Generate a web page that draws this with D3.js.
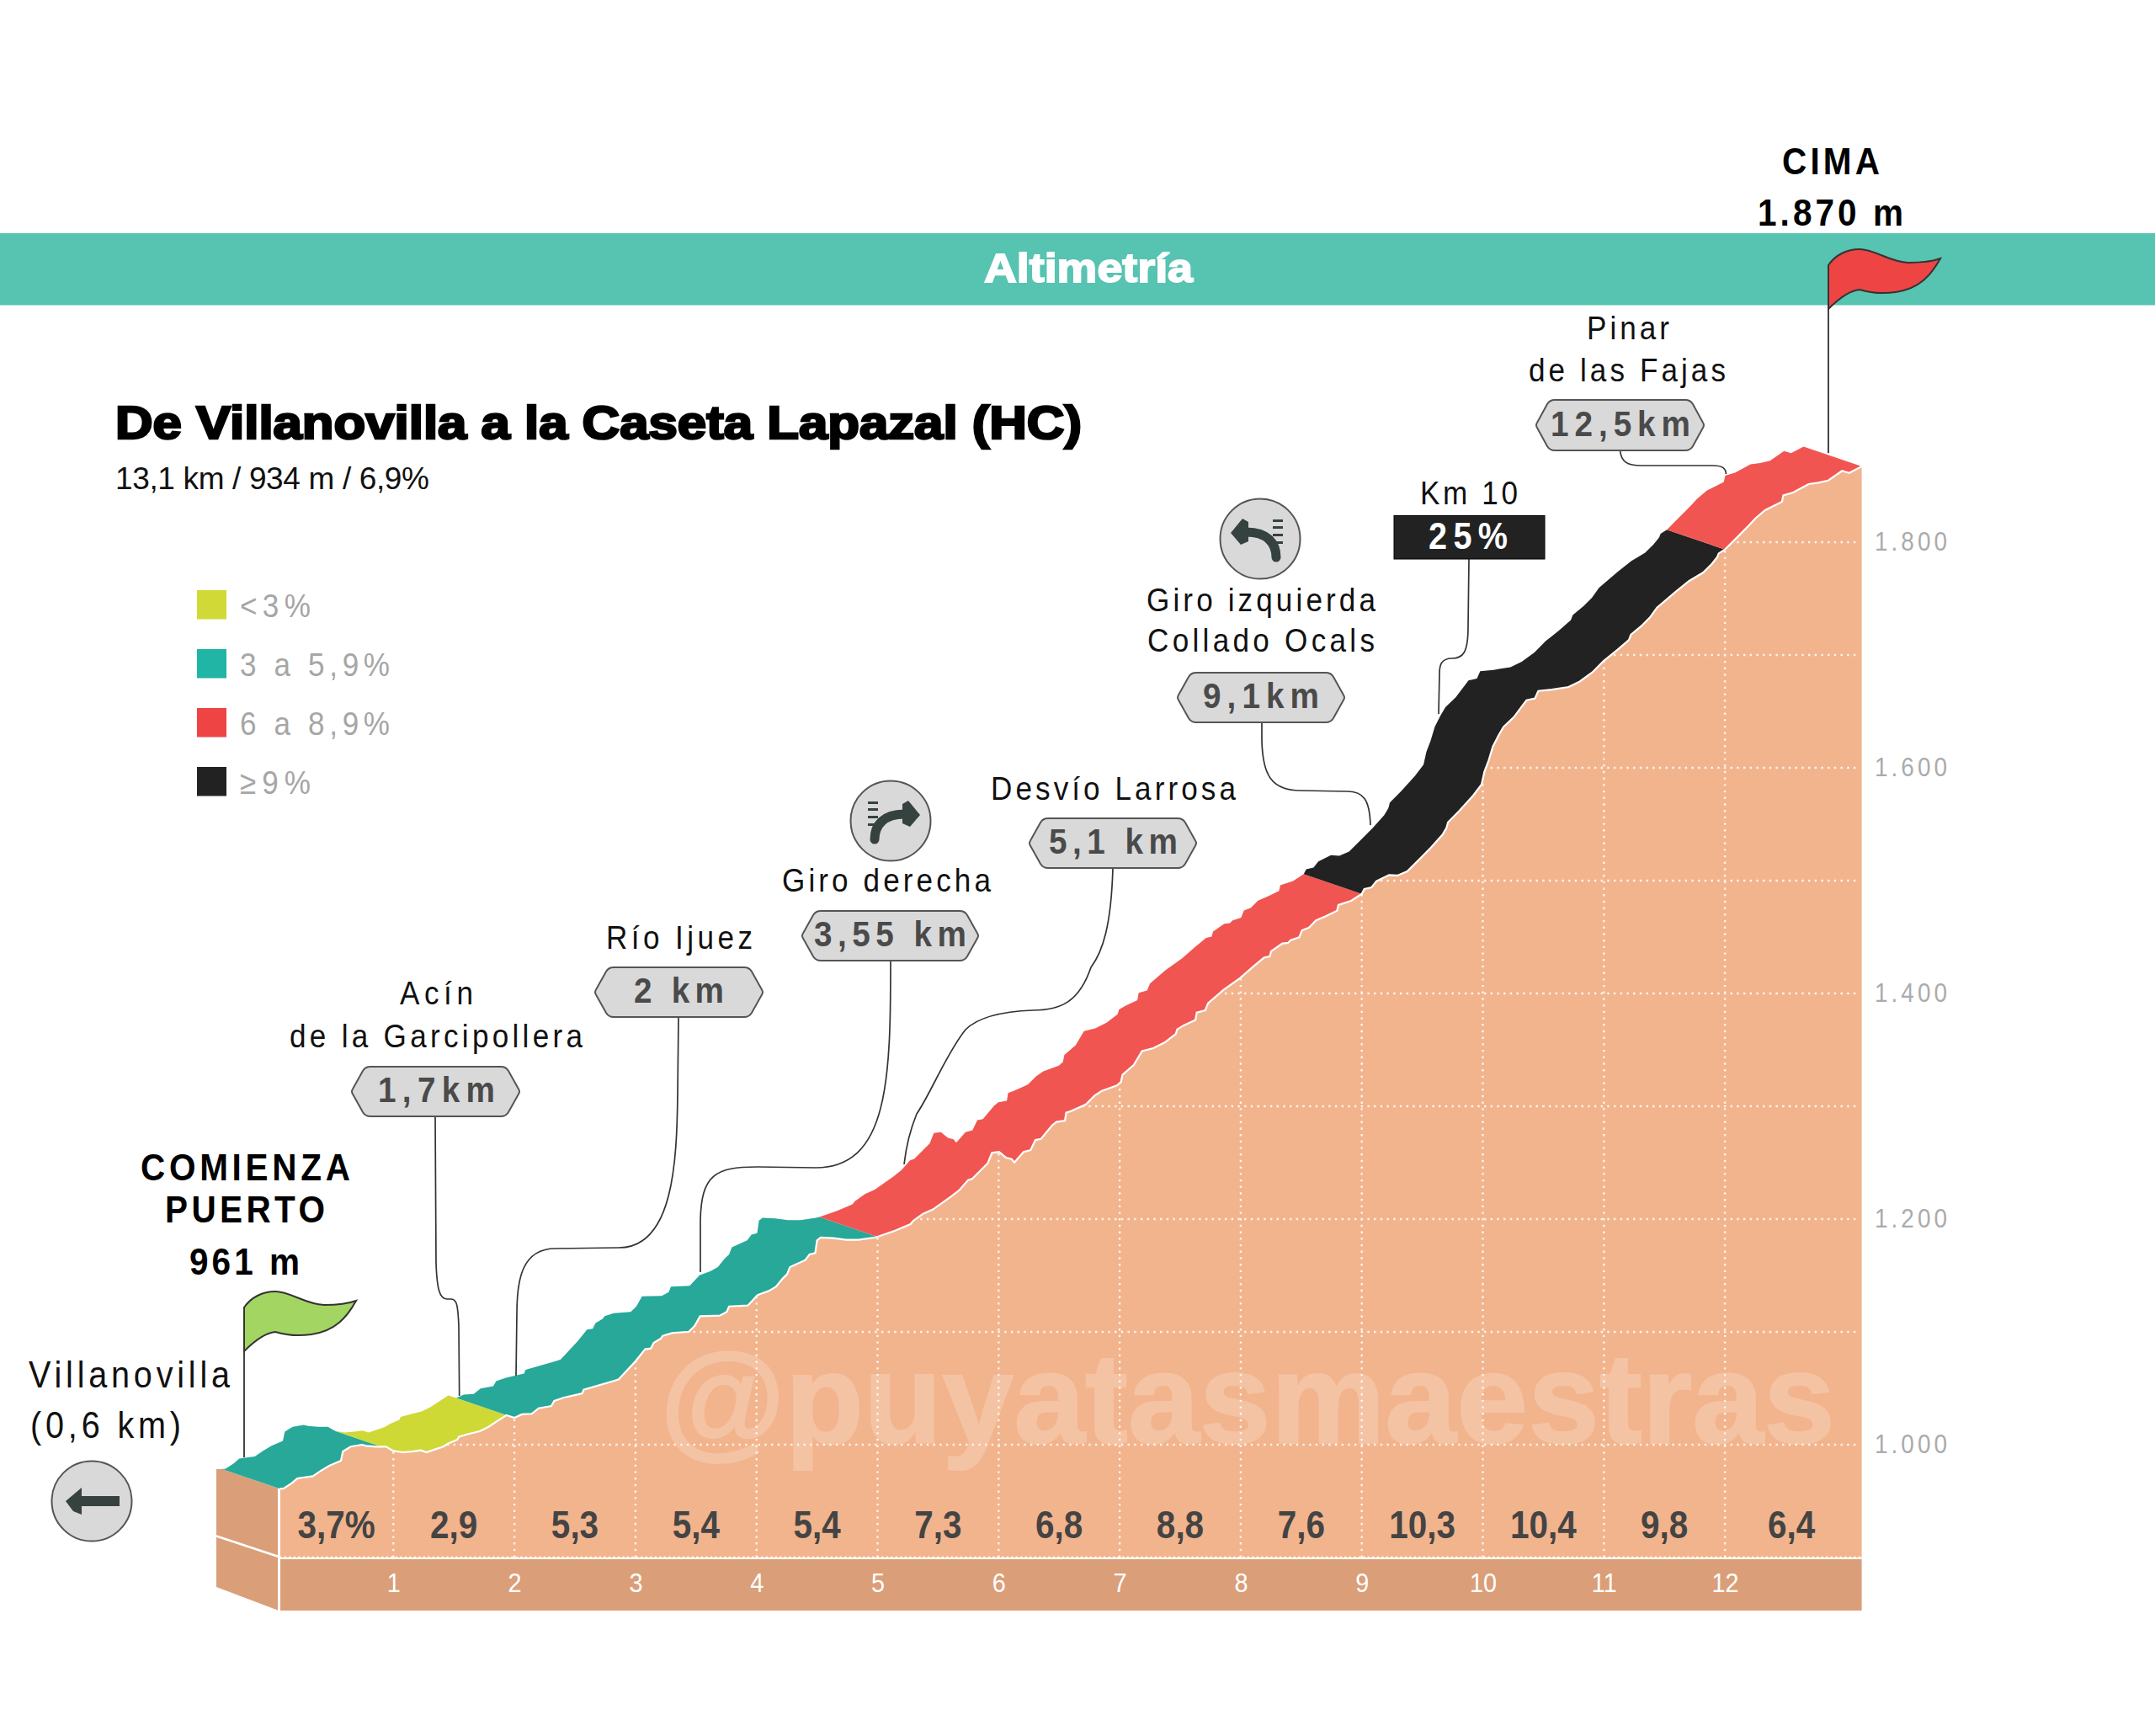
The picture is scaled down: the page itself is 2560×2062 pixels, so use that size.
<!DOCTYPE html>
<html><head><meta charset="utf-8">
<script src="https://cdn.jsdelivr.net/npm/d3@7"></script>
<style>
html,body{margin:0;padding:0;background:#fff}
svg{display:block}
text{font-family:"Liberation Sans",Arial,sans-serif}
</style></head><body>
<svg id="c" width="2560" height="2062" viewBox="0 0 2560 2062"></svg>
<script>
const profileKm=[0.06,0.0916,0.161,0.207,0.254,0.335,0.404,0.474,0.567,0.583,0.648,0.74,0.775,0.856,0.938,1.0,1.077,1.158,1.227,1.274,1.343,1.413,1.448,1.529,1.54,1.621,1.714,1.784,1.853,1.934,2.0,2.062,2.143,2.2,2.305,2.329,2.41,2.491,2.56,2.572,2.827,2.862,3.001,3.08,3.127,3.15,3.209,3.225,3.302,3.441,3.488,3.534,3.697,3.754,3.773,3.928,4.009,4.102,4.16,4.218,4.253,4.276,4.403,4.438,4.485,4.5,4.53,4.635,4.739,4.843,4.971,5.0,5.145,5.272,5.295,5.376,5.457,5.608,5.678,5.748,5.783,5.91,5.945,6.003,6.06,6.107,6.13,6.206,6.264,6.304,6.35,6.443,6.478,6.548,6.558,6.605,6.721,6.791,6.849,6.977,7.011,7.023,7.116,7.185,7.278,7.371,7.463,7.475,7.533,7.626,7.637,7.707,7.73,7.857,7.996,8.101,8.194,8.24,8.251,8.344,8.39,8.413,8.483,8.506,8.564,8.622,8.703,8.796,8.807,8.912,9.0,9.021,9.081,9.121,9.225,9.294,9.375,9.48,9.573,9.665,9.7,9.712,9.805,9.92,9.99,10.013,10.048,10.083,10.13,10.171,10.256,10.326,10.361,10.431,10.458,10.569,10.708,10.801,10.906,10.998,11.056,11.114,11.207,11.223,11.311,11.381,11.439,11.589,11.705,11.821,11.891,11.937,11.948,12.0,12.1,12.192,12.25,12.332,12.471,12.482,12.563,12.691,12.771,12.853,12.968,13.026,13.13];
const profileElev=[961,961,965.9,970.1,970.9,972.1,977.1,981.6,985.8,994,998.3,1000,999,998.3,998.3,994.5,993.3,994,995,993.3,995.8,998.3,1000.7,1004.5,1007,1009.5,1011.9,1015.7,1020.6,1026.1,1023.9,1026.9,1027.4,1032.3,1034.3,1038.8,1041.8,1043.8,1045.5,1048.8,1056.7,1058,1074.1,1084.6,1085.3,1090.3,1094,1096.5,1099,1100.2,1105.2,1113.9,1114.4,1117.7,1122.6,1123.4,1132.6,1136.3,1140,1147.5,1151.2,1157.5,1163.7,1168.7,1169.9,1181.1,1183.6,1183.1,1181.6,1181.6,1183.6,1184.3,1189.8,1195.5,1198.5,1204.7,1208.5,1220,1225.9,1234.6,1235.8,1249.5,1258.7,1259.5,1254.5,1253.2,1250.2,1259.5,1261.2,1270.1,1271.1,1283.1,1286.1,1287.3,1294.3,1296,1301.7,1309.2,1313.4,1318.4,1321.6,1327.9,1336.6,1349,1351.5,1356.5,1364,1368.2,1371.9,1376.5,1383.1,1385.1,1391.3,1403,1413.7,1423.6,1431.8,1432.8,1437.3,1444.3,1444.8,1447.2,1449.7,1455.9,1458.4,1464.7,1468.4,1473.4,1478.4,1482.1,1488.3,1492.5,1494,1499.5,1505,1504.5,1508.2,1519.4,1529.4,1540.5,1546.8,1551.7,1561.7,1575.4,1585.3,1596.5,1606.4,1618.9,1628.8,1636.2,1644.9,1654.9,1659.9,1661.6,1668.1,1669.3,1671.6,1676.5,1684.7,1694.7,1699.7,1704.7,1713.4,1717.9,1725.8,1733.3,1742,1755.7,1765.7,1773.1,1780.6,1786.8,1790,1793.5,1804.2,1814.2,1820.9,1828.4,1835.8,1841.5,1844,1851.5,1852.7,1854.7,1863.2,1861.4,1867.2];
const segStarts=[0,1,2,5,9,12];
const segEnds=[1,2,5,9,12,13.2];
const segClass=[1,0,1,2,3,2];
const legendLabels=["<3%","3 a 5,9%","6 a 8,9%","≥9%"];
const legendWidths=[84,178,178,84];
const bandColors=["#ced935","#27a899","#f15551","#222222"];
const legendColors=["#d1d936","#20b5a5","#ee4444","#222222"];
const gradeLabels=["3,7%","2,9","5,3","5,4","5,4","7,3","6,8","8,8","7,6","10,3","10,4","9,8","6,4"];
const gradeKm=[0.53,1.5,2.5,3.5,4.5,5.5,6.5,7.5,8.5,9.5,10.5,11.5,12.55];
const kmTicks=[1,2,3,4,5,6,7,8,9,10,11,12];
const elevLabelTicks=[1000,1200,1400,1600,1800];
const elevGrid=[1000,1100,1200,1300,1400,1500,1600,1700,1800];

const svg=d3.select("#c");
const x=d3.scaleLinear().domain([0,13.13]).range([323.5,2211.6]);
const y=d3.scaleLinear().domain([900,1870]).range([1850,550.2]);
const pts=profileKm.map((k,i)=>[k,profileElev[i]]);
const OX=-69,OY=-23.5, NARROW=.9;

// banner
svg.append("rect").attr("x",0).attr("y",277).attr("width",2560).attr("height",85.5).attr("fill","#57c3b1");

function T(str,x0,w,base,size,weight,fill,opt={}){
  const sx=opt.plain?1:NARROW;
  const t=svg.append("text").attr("transform",`translate(${x0},${base}) scale(${sx},1)`)
    .attr("font-size",size).attr("font-weight",weight).attr("fill",fill).text(str);
  if(w){t.attr("textLength",w/sx).attr("lengthAdjust",opt.adjust||"spacing");}
  if(opt.stroke)t.attr("stroke",fill).attr("stroke-width",opt.stroke);
  if(opt.opacity)t.attr("opacity",opt.opacity);
  return t;
}
T("Altimetría",1169,248,335,48,"bold","#fff",{plain:1,adjust:"spacingAndGlyphs",stroke:1.8});
T("De Villanovilla a la Caseta Lapazal (HC)",137,1148,521,55,"bold","#000",{plain:1,adjust:"spacingAndGlyphs",stroke:2.6});
T("13,1 km / 934 m / 6,9%",137,373,581,37,"normal","#111",{plain:1});

// legend
legendLabels.forEach((l,i)=>{
  svg.append("rect").attr("x",234).attr("y",701+i*70).attr("width",35).attr("height",34.5).attr("fill",legendColors[i]);
  T(l,285,legendWidths[i],733+i*70,39,"normal","#a6a6a6",{});
});

// base
const line=d3.line().x(d=>x(d[0])).y(d=>y(d[1]));
const area=d3.area().x(d=>x(d[0])).y0(y(900)).y1(d=>y(d[1]));
svg.append("defs").append("clipPath").attr("id","ac").append("path").attr("d",area(pts));
svg.append("path").attr("d",area(pts)).attr("fill","#f2b48d");
svg.append("rect").attr("x",x(0.06)).attr("y",y(900)+2).attr("width",x(13.13)-x(0.06)).attr("height",61).attr("fill","#da9f79");
svg.append("path").attr("d","M257,1745L264,1745L331,1768L331,1913L257,1885Z").attr("fill","#da9f79");
svg.append("path").attr("d","M257,1824.5L331,1849").attr("stroke","#fff").attr("stroke-width",2.5);
svg.append("path").attr("d","M331.5,1768L331.5,1913").attr("stroke","#fff").attr("stroke-width",3);

// grid
const g=svg.append("g").attr("clip-path","url(#ac)").attr("stroke","#fff").attr("stroke-width",2.4).attr("stroke-dasharray","2.4 5.3").attr("opacity",.85);
g.selectAll(".v").data(kmTicks).join("line").attr("class","v").attr("x1",d=>x(d)).attr("x2",d=>x(d)).attr("y1",500).attr("y2",y(900));
g.selectAll(".h").data(elevGrid).join("line").attr("class","h").attr("x1",300).attr("x2",2205).attr("y1",d=>y(d)).attr("y2",d=>y(d));
svg.append("line").attr("x1",x(0.06)).attr("x2",x(13.13)).attr("y1",y(900)).attr("y2",y(900)).attr("stroke","#fff").attr("stroke-width",2.5).attr("stroke-dasharray","2.5 3");

// watermark
T("@puyatasmaestras",784,1396,1714,152,"bold","#fff",{plain:1,adjust:"spacingAndGlyphs",opacity:.2,stroke:2});

// band
segStarts.forEach((a,i)=>{
  const b=segEnds[i];
  const s=pts.filter(p=>p[0]>=a&&p[0]<=b);
  const front=s.map(p=>[x(p[0]),y(p[1])]);
  const back=front.map(p=>[p[0]+OX,p[1]+OY]).reverse();
  svg.append("path").attr("d",d3.line()(front.concat(back))+"Z").attr("fill",bandColors[segClass[i]]);
});
svg.append("path").attr("d",line(pts)).attr("fill","none").attr("stroke","#fff").attr("stroke-width",2.2);

// grades
svg.selectAll(".gr").data(gradeLabels).join("text").attr("class","gr")
  .attr("transform",(d,i)=>`translate(${x(gradeKm[i])},1827) scale(.88,1)`)
  .attr("text-anchor","middle").attr("font-size",46).attr("font-weight","bold").attr("fill","#444").text(d=>d);

// axes
const xa=svg.append("g").attr("transform","translate(0,1891)").call(d3.axisBottom(x).tickValues(kmTicks).tickSize(0).tickPadding(0).tickFormat(d3.format("d")));
xa.select(".domain").remove();
xa.selectAll("text").attr("dy",0).attr("y",0).attr("font-size",32).attr("fill","#fff").attr("transform",`scale(${NARROW},1)`).style("font-family",'"Liberation Sans"');
const ya=svg.append("g").attr("transform","translate(2227,0)").call(d3.axisRight(y).tickValues(elevLabelTicks).tickSize(0).tickPadding(0).tickFormat(d=>d3.format(",")(d).replace(",",".")));
ya.select(".domain").remove();
ya.selectAll("text").attr("x",0).attr("font-size",31).attr("letter-spacing",4.5).attr("fill","#ababab").attr("transform",`scale(${NARROW},1)`).style("font-family",'"Liberation Sans"');

// flags
const FLAG="M0,0C8,-12 22,-19 37,-19C55,-19 72,-4 95,-3C110,-3 122,-4 133,-8C122,12 108,28 80,32C66,34 50,33 37,29C25,30 12,40 0,52Z";
function flag(px,top,bot,fill){
  svg.append("line").attr("x1",px).attr("x2",px).attr("y1",top).attr("y2",bot).attr("stroke","#444").attr("stroke-width",2);
  svg.append("path").attr("transform",`translate(${px},${top})`).attr("d",FLAG).attr("fill",fill).attr("stroke","#333").attr("stroke-width",2);
}
flag(290,1553,1731,"#a3d562");
flag(2172,315,538,"#ee4444");

// leaders
const leaders=[
"M517,1326L518,1500C519,1530 522,1543 531,1543L536,1543C543,1543 544,1552 545,1575L545.7,1658",
"M806,1208L805,1300C804,1380 800,1482 735,1482L660,1483C620,1483 614,1520 614,1560L613,1634",
"M1058,1141C1058,1280 1056,1387 969,1387L900,1386C850,1386 833,1395 832,1450L832,1511",
"M1322,1031C1320,1100 1310,1130 1296,1149C1282,1190 1260,1200 1227,1200C1200,1201 1165,1205 1147,1223C1125,1250 1105,1300 1089,1323C1080,1345 1076,1365 1074,1383",
"M1499,858L1499,880C1500,920 1510,939 1545,939L1600,940C1620,940 1627,950 1628,980",
"M1745,664L1744,745C1744,775 1738,782 1725,782C1712,782 1710,790 1710,800L1709,848",
"M1924.5,535C1926,548 1932,553 1950,553L2035,553C2046,553 2050,556 2050.5,563"];
svg.selectAll(".ld").data(leaders).join("path").attr("class","ld").attr("d",d=>d).attr("fill","none").attr("stroke","#333").attr("stroke-width",1.7);

// badges
function badge(x0,x1,y0,y1,str,tx0,tw){
  const m=(y0+y1)/2,i=22;
  const p=`M${x0+i},${y0}L${x1-i},${y0}Q${x1-i+6},${y0} ${x1-i+9},${y0+5}L${x1-1},${m-3}Q${x1+1},${m} ${x1-1},${m+3}L${x1-i+9},${y1-5}Q${x1-i+6},${y1} ${x1-i},${y1}L${x0+i},${y1}Q${x0+i-6},${y1} ${x0+i-9},${y1-5}L${x0+1},${m+3}Q${x0-1},${m} ${x0+1},${m-3}L${x0+i-9},${y0+5}Q${x0+i-6},${y0} ${x0+i},${y0}Z`;
  svg.append("path").attr("d",p).attr("fill","#d9d9d9").attr("stroke","#555").attr("stroke-width",2);
  T(str,tx0,tw,y1-17.5,43,"bold","#4a4a4a",{});
}
badge(418,617,1267,1326,"1,7km",449,139);
badge(707,906,1149,1208,"2 km",753,107);
badge(953,1162,1082,1141,"3,55 km",967,181);
badge(1223,1421,972,1031,"5,1 km",1246,153);
badge(1399,1597,799,858,"9,1km",1429,138);
badge(1825,2024,475,535,"12,5km",1842,166);

// black box
svg.append("rect").attr("x",1656).attr("y",612.5).attr("width",179).attr("height",51.5).attr("fill","#222").attr("stroke","#000");
T("25%",1697,94,652,44,"bold","#fff",{});

// labels
T("COMIENZA",167,249,1402,45,"bold","#000");
T("PUERTO",196,190,1452,45,"bold","#000");
T("961 m",225,131,1513.5,45,"bold","#000");
T("CIMA",2117,116,206.7,45,"bold","#000");
T("1.870 m",2088,173,268,45,"bold","#000");
T("Villanovilla",34,239,1648,44,"normal","#111");
T("(0,6 km)",36,179,1708,44,"normal","#111");
T("Acín",475,87,1193,39,"normal","#111");
T("de la Garcipollera",344,348,1244,39,"normal","#111");
T("Río Ijuez",720,174,1127,39,"normal","#111");
T("Giro derecha",929,248,1059,39,"normal","#111");
T("Desvío Larrosa",1177,291,950,39,"normal","#111");
T("Giro izquierda",1362,272,726,39,"normal","#111");
T("Collado Ocals",1363,270,774,39,"normal","#111");
T("Km 10",1687,116,599,39,"normal","#111");
T("Pinar",1885,98,403,39,"normal","#111");
T("de las Fajas",1816,234,453,39,"normal","#111");

// round signs
function sign(cx,cy){
  return svg.append("g").attr("transform",`translate(${cx},${cy})`).call(g=>g.append("circle").attr("r",47.5).attr("fill","#d9d9d9").attr("stroke","#555").attr("stroke-width",2));
}
const ICON="#35423f";
const s0=sign(109,1783);
s0.append("path").attr("d","M33,-6H-12V-16L-31,0L-22,12L-12,16V6H33Z").attr("fill",ICON);
function turn(cx,cy,mir){
  const s=sign(cx,cy).append("g").attr("transform",mir?"scale(-1,1)":null);
  s.append("path").attr("d","M-19,22C-19,5 -8,-8 16,-8").attr("fill","none").attr("stroke",ICON).attr("stroke-width",11).attr("stroke-linecap","round");
  s.append("path").attr("d","M21,-24L35,-7L23,7L14,3L14,-20Z").attr("fill",ICON);
  [-23,-15,-6,3].forEach(d=>s.append("rect").attr("x",-27).attr("y",d).attr("width",12).attr("height",3).attr("fill",ICON));
}
turn(1058,975,false);
turn(1497,640,true);
</script>
</body></html>
